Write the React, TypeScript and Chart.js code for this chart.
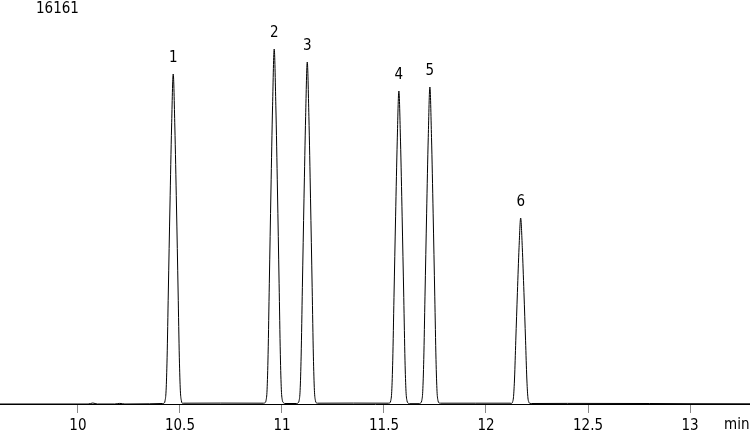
import React, { useEffect, useRef } from 'react';
import { Chart, registerables } from 'chart.js';

Chart.register(...registerables);

const FONT = '"DejaVu Sans Condensed", "DejaVu Sans", sans-serif';

const sampleName = '16161';
const axisUnit = 'min';
const tickValues = [10, 10.5, 11, 11.5, 12, 12.5, 13];
const xMin = 9.618;
const xMax = 13.294;
const yMax = 404;

const times = [
  9.618, 10.0, 10.05, 10.073, 10.095, 10.18, 10.205, 10.23, 10.35,
  10.415, 10.421, 10.427, 10.432, 10.437, 10.443, 10.451, 10.459, 10.467,
  10.475, 10.483, 10.491, 10.497, 10.502, 10.507, 10.513, 10.519,
  10.7, 10.91, 10.916, 10.922, 10.927, 10.932, 10.938, 10.946, 10.954, 10.962,
  10.97, 10.978, 10.986, 10.992, 10.997, 11.002, 11.008, 11.014,
  11.072, 11.078, 11.084, 11.089, 11.094, 11.1, 11.108, 11.116, 11.124,
  11.132, 11.14, 11.148, 11.154, 11.159, 11.164, 11.17, 11.176,
  11.35, 11.521, 11.527, 11.533, 11.538, 11.543, 11.549, 11.557, 11.565, 11.573,
  11.581, 11.589, 11.597, 11.603, 11.608, 11.613, 11.619, 11.625,
  11.673, 11.679, 11.685, 11.69, 11.695, 11.701, 11.709, 11.717, 11.725,
  11.733, 11.741, 11.749, 11.755, 11.76, 11.765, 11.771, 11.777,
  11.95, 12.118, 12.124, 12.13, 12.135, 12.14, 12.146, 12.154, 12.162, 12.17,
  12.178, 12.186, 12.194, 12.2, 12.205, 12.21, 12.216, 12.222,
  12.4, 12.8, 13.0, 13.294,
];

const signal = [
  0, 0, 0, 1.0, 0, 0, 0.6, 0, 0.2,
  0.5, 0.7, 3.3, 13.2, 46.2, 112, 198, 277, 330,
  277, 198, 112, 46.2, 13.2, 3.3, 0.7, 0.8,
  0.9, 0.8, 1.2, 3.6, 14.2, 49.7, 120.7, 213, 298.2, 355,
  298.2, 213, 120.7, 49.7, 14.2, 3.6, 1.2, 0.5,
  0.5, 1.0, 3.4, 13.7, 47.9, 116.3, 205.2, 287.3, 342,
  287.3, 205.2, 116.3, 47.9, 13.7, 3.4, 1.0, 0.8,
  0.9, 0.8, 1.0, 3.1, 12.5, 43.8, 106.4, 187.8, 262.9, 313,
  262.9, 187.8, 106.4, 43.8, 12.5, 3.1, 0.8, 0.3,
  0.3, 0.9, 3.2, 12.7, 44.4, 107.8, 190.2, 266.3, 317,
  266.3, 190.2, 107.8, 44.4, 12.7, 3.2, 1.0, 0.8,
  0.8, 0.8, 0.6, 1.9, 7.4, 26.0, 63.2, 111.6, 156.2, 186,
  156.2, 111.6, 63.2, 26.0, 7.4, 1.9, 0.6, 0.5,
  0.6, 0.5, 0.3, 0.2,
];

const peakLabels = ['1', '2', '3', '4', '5', '6'];
const peakTimes = [10.467, 10.962, 11.124, 11.573, 11.725, 12.17];
const peakHeights = [330, 355, 342, 313, 317, 186];

const annotationPlugin = {
  id: 'chromAnnotations',
  afterDraw(chart: any) {
    const { ctx, scales } = chart;
    const xs = scales.x;
    const ys = scales.y;
    ctx.save();
    ctx.fillStyle = '#000';
    ctx.font = `15px ${FONT}`;
    ctx.textAlign = 'center';
    ctx.textBaseline = 'alphabetic';
    peakLabels.forEach((lab, i) => {
      const px = xs.getPixelForValue(peakTimes[i]);
      const py = ys.getPixelForValue(peakHeights[i]);
      ctx.fillText(lab, px, py - 12.5);
    });
    ctx.textAlign = 'left';
    ctx.fillText(sampleName, 36, 12.5);
    ctx.fillText(axisUnit, 724, 429);
    ctx.restore();
  },
};

export default function App() {
  const ref = useRef<HTMLCanvasElement | null>(null);

  useEffect(() => {
    if (!ref.current) return;
    const chart = new Chart(ref.current, {
      type: 'line',
      data: {
        datasets: [
          {
            data: times.map((t, i) => ({ x: t, y: signal[i] })),
            borderColor: '#000',
            borderWidth: 1,
            pointRadius: 0,
            fill: false,
            cubicInterpolationMode: 'monotone',
          },
        ],
      },
      options: {
        animation: false,
        responsive: false,
        maintainAspectRatio: false,
        layout: { padding: 0 },
        plugins: { legend: { display: false }, tooltip: { enabled: false } },
        scales: {
          x: {
            type: 'linear',
            min: xMin,
            max: xMax,
            afterBuildTicks: (axis: any) => {
              axis.ticks = tickValues.map((v) => ({ value: v }));
            },
            afterFit: (axis: any) => {
              axis.height = 26;
            },
            ticks: {
              font: { family: FONT, size: 15, lineHeight: 1 },
              color: '#000',
              padding: 6,
              maxRotation: 0,
              autoSkip: false,
              callback: (v: any) => String(v),
            },
            grid: {
              display: true,
              drawOnChartArea: false,
              drawTicks: true,
              tickLength: 9,
              color: '#888',
              tickColor: '#888',
            },
            border: { display: true, color: '#000', width: 1 },
          },
          y: { display: false, min: 0, max: yMax },
        },
      },
      plugins: [annotationPlugin],
    } as any);
    return () => chart.destroy();
  }, []);

  return (
    <div style={{ position: 'fixed', left: 0, top: 0, width: 750, height: 430, background: '#fff' }}>
      <canvas ref={ref} width={750} height={430} style={{ display: 'block' }} />
    </div>
  );
}
